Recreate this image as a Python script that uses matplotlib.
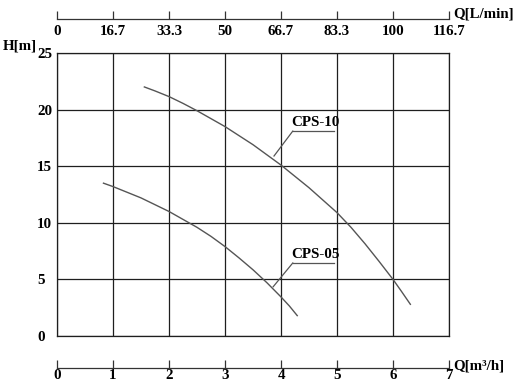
import matplotlib
matplotlib.use("Agg")
import matplotlib.pyplot as plt

# ---- data ----
cps10_q = [1.56, 1.75, 2.0, 2.25, 2.5, 2.75, 3.0, 3.25, 3.5, 3.75, 4.0,
           4.25, 4.5, 4.75, 5.0, 5.25, 5.5, 5.75, 6.0, 6.15, 6.31]
cps10_h = [22.0, 21.65, 21.15, 20.55, 19.9, 19.2, 18.5, 17.7, 16.9, 16.0, 15.1,
           14.1, 13.1, 12.0, 10.9, 9.6, 8.15, 6.6, 5.0, 3.95, 2.8]
cps05_q = [0.83, 1.0, 1.25, 1.5, 1.75, 2.0, 2.25, 2.5, 2.75, 3.0, 3.25,
           3.5, 3.75, 4.0, 4.15, 4.29]
cps05_h = [13.5, 13.2, 12.7, 12.2, 11.6, 11.0, 10.3, 9.6, 8.8, 7.9, 6.9,
           5.85, 4.7, 3.45, 2.65, 1.8]

q_m3h_ticks = [0, 1, 2, 3, 4, 5, 6, 7]
q_lmin_labels = ["0", "16.7", "33.3", "50", "66.7", "83.3", "100", "116.7"]
h_ticks = [0, 5, 10, 15, 20, 25]

# ---- styling ----
W, H = 531, 386
DPI = 100
FONT = dict(family="Liberation Serif", weight="bold", size=10.8)
GRID_C = "#1e1e1e"
CURVE_C = "#555555"

fig = plt.figure(figsize=(W / DPI, H / DPI), dpi=DPI)

def fx(px):
    return px / W

def fy(py):
    return 1 - py / H

x0, x1 = 57, 449
y_top, y_bot = 53, 336

ax = fig.add_axes([fx(x0), fy(y_bot), fx(x1 - x0), fy(y_top) - fy(y_bot)])
ax.set_xlim(0, 7)
ax.set_ylim(0, 25)
ax.set_xticks(q_m3h_ticks)
ax.set_yticks(h_ticks)
ax.set_xticklabels([])
ax.set_yticklabels([str(v) for v in h_ticks], **FONT)
for lab in ax.get_yticklabels():
    lab.set_horizontalalignment("left")
ax.tick_params(axis="x", length=0)
ax.tick_params(axis="y", length=0, pad=(x0 - 37) * 0.72)
ax.grid(True, color=GRID_C, lw=0.9)
for s in ax.spines.values():
    s.set_color(GRID_C)
    s.set_linewidth(0.9)

ax.plot(cps10_q, cps10_h, color=CURVE_C, lw=1.0)
ax.plot(cps05_q, cps05_h, color=CURVE_C, lw=1.0)

# labels with underline and leader
def label(text, ux0, ux1, uy, lx, ly):
    ax.plot([ux0, ux1], [uy, uy], color=CURVE_C, lw=0.9)
    ax.plot([ux0, lx], [uy, ly], color=CURVE_C, lw=0.9)
    ax.text(ux0 - 0.02, uy + 0.2, text, ha="left", va="bottom", **FONT)

label("CPS-10", 4.21, 4.94, 18.1, 3.875, 15.9)
label("CPS-05", 4.21, 4.94, 6.45, 3.86, 4.35)

fig.text(fx(3), fy(46), "H[m]", ha="left", va="center", **FONT)

# secondary scales (separate axis lines)
def scale_axis(py_line, labels, unit, unit_dy, pad):
    a = fig.add_axes([fx(x0), fy(py_line), fx(x1 - x0), 0.0005])
    a.set_xlim(0, 7)
    a.set_ylim(0, 1)
    a.patch.set_visible(False)
    for k in ("top", "left", "right"):
        a.spines[k].set_visible(False)
    a.spines["bottom"].set_color("#333333")
    a.spines["bottom"].set_linewidth(0.9)
    a.set_yticks([])
    a.set_xticks(q_m3h_ticks)
    a.set_xticklabels(labels, **FONT)
    a.tick_params(axis="x", direction="in", length=6, width=0.9,
                  color="#333333", pad=pad)
    fig.text(fx(453), fy(py_line + unit_dy), unit, ha="left",
             va="baseline", **FONT)

scale_axis(19, q_lmin_labels, "Q[L/min]", -1, 4.5)
scale_axis(368, [str(v) for v in q_m3h_ticks], "Q[m³/h]", 1, 0.4)

fig.savefig("out.png", dpi=DPI)
